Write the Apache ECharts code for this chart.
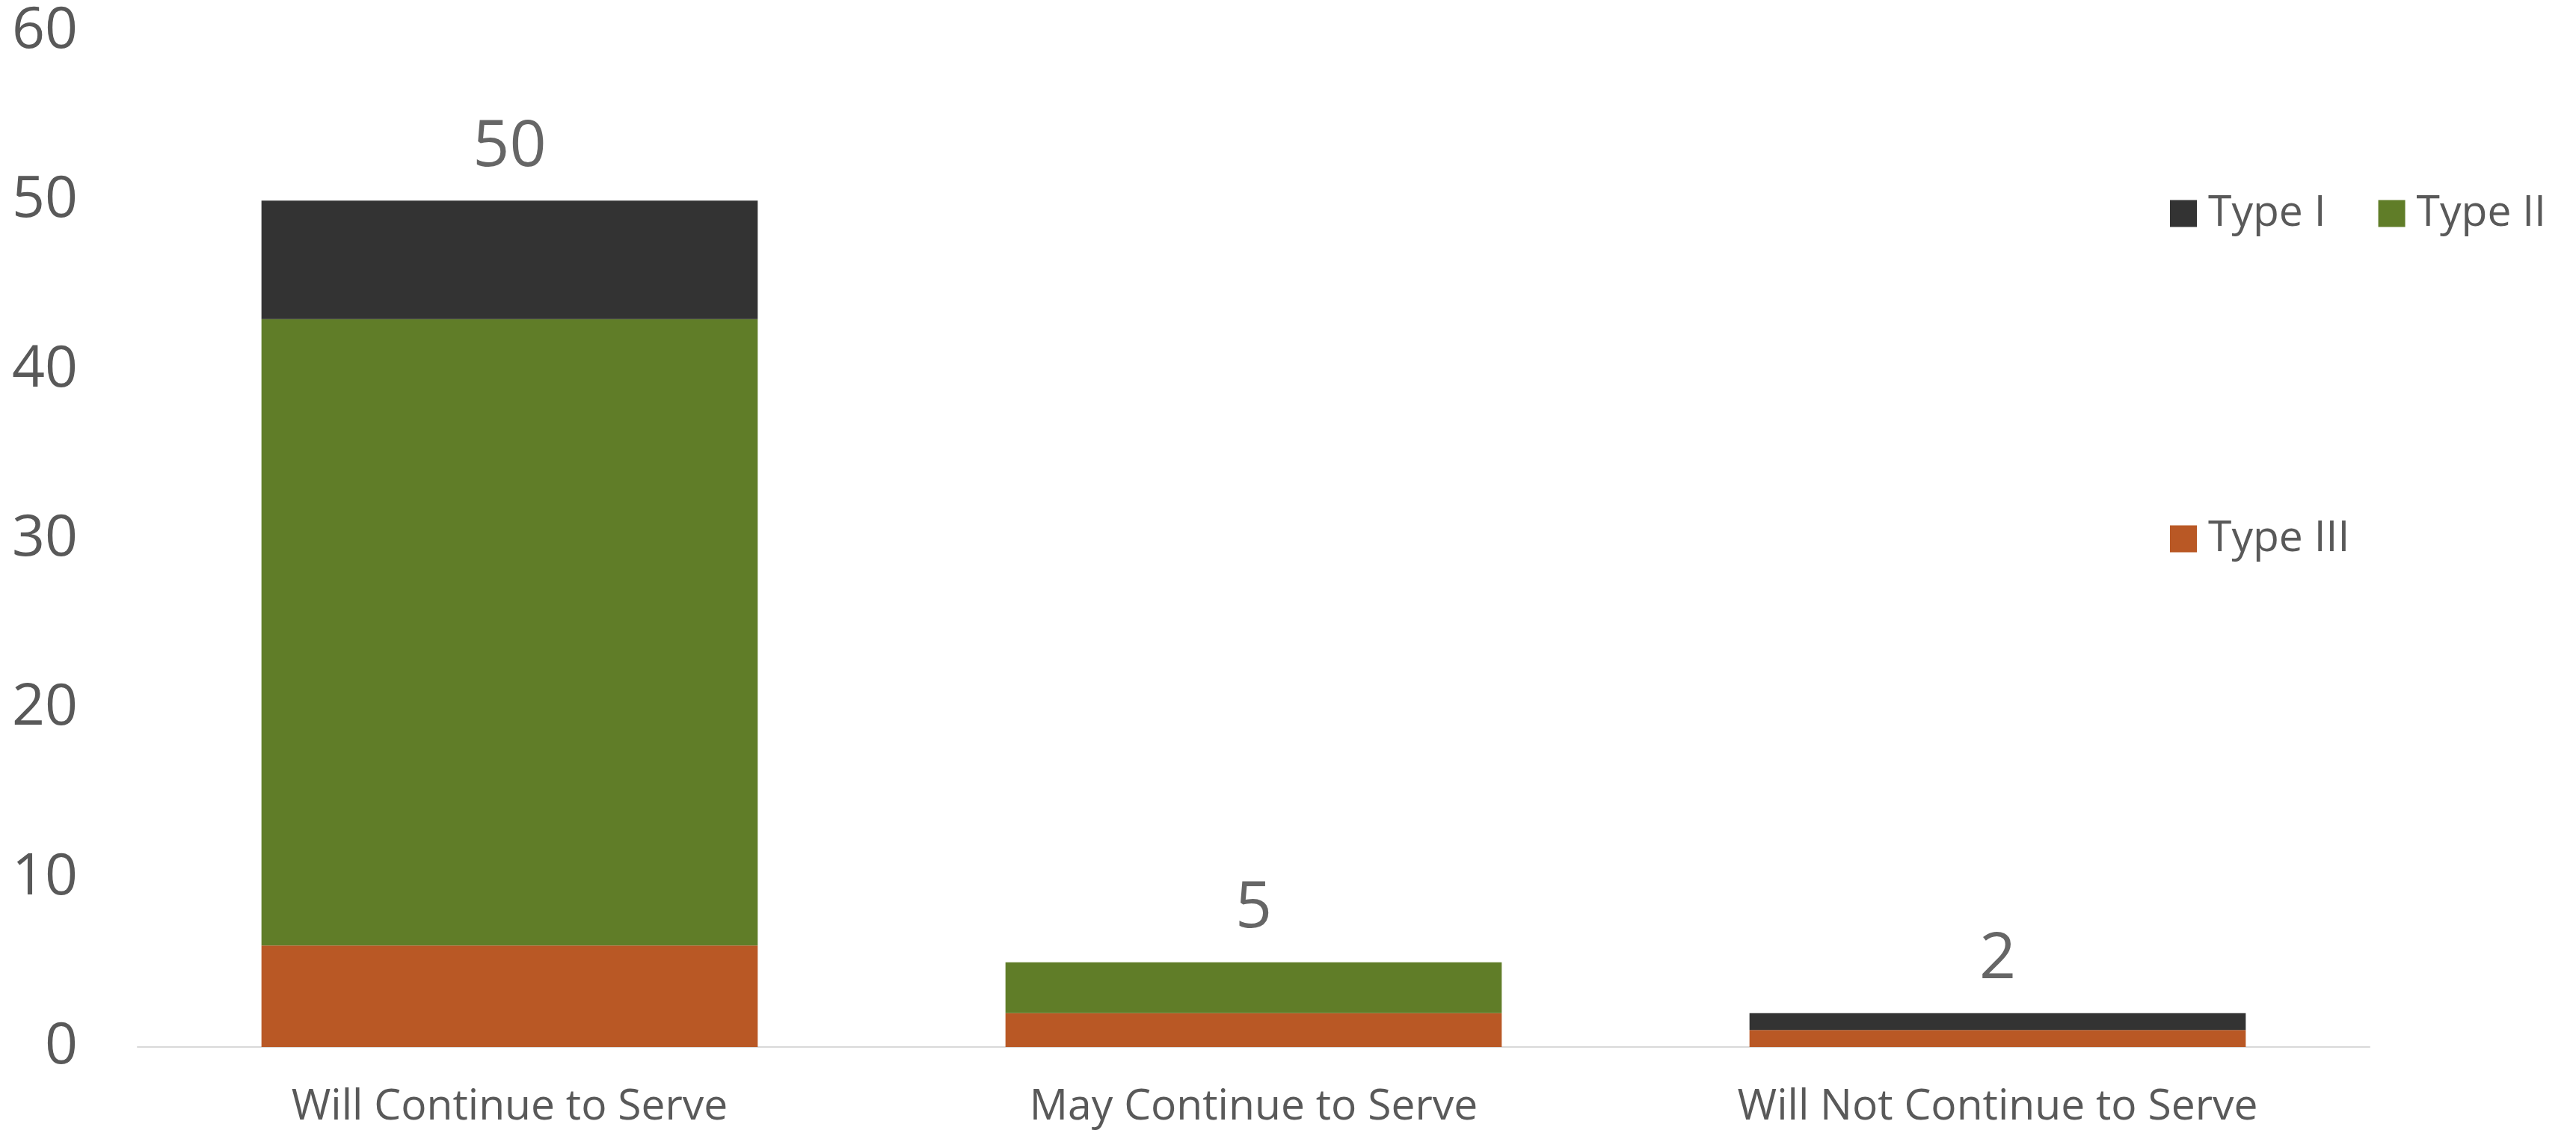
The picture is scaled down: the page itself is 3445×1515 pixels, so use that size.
<!DOCTYPE html>
<html>
<head>
<meta charset="utf-8">
<title>Service intention by type</title>
<script src="https://cdn.jsdelivr.net/npm/echarts@6/dist/echarts.min.js"></script>
<style>
  html, body { margin: 0; padding: 0; background: #ffffff; }
  #chart { width: 3445px; height: 1515px; }
</style>
</head>
<body>
<div id="chart"></div>
<script>
// Categories along the x axis
const categories = ['Will Continue to Serve', 'May Continue to Serve', 'Will Not Continue to Serve'];

// Stacked counts per type (bottom to top: Type III, Type II, Type I)
const typeIII = [6, 2, 1];
const typeII = [37, 3, 0];
const typeI = [7, 0, 1];

// Y axis ticks
const yMin = 0;
const yMax = 60;
const yStep = 10;

// Stack totals shown above each bar
const totals = categories.map((_, i) => typeIII[i] + typeII[i] + typeI[i]);

const FONT = '"Open Sans", "Noto Sans", sans-serif';
const COLORS = { t1: '#333333', t2: '#607D28', t3: '#B95825' };

const chart = echarts.init(document.getElementById('chart'), null, { renderer: 'canvas' });

const barBase = {
  type: 'bar',
  stack: 'total',
  barWidth: '66.7%',
  emphasis: { disabled: true }
};

chart.setOption({
  animation: false,
  backgroundColor: '#ffffff',
  grid: { left: 184, right: 276, top: 42, bottom: 115, containLabel: false },
  legend: [
    {
      data: ['Type I', 'Type II'],
      left: 2902,
      top: 257,
      orient: 'horizontal',
      padding: 0,
      itemWidth: 36,
      itemHeight: 36,
      itemGap: 70,
      icon: 'rect',
      selectedMode: false,
      textStyle: { fontFamily: FONT, fontSize: 57, color: '#595959', padding: [0, 0, 0, 10] }
    },
    {
      data: ['Type III'],
      left: 2902,
      top: 692,
      orient: 'horizontal',
      padding: 0,
      itemWidth: 36,
      itemHeight: 36,
      icon: 'rect',
      selectedMode: false,
      textStyle: { fontFamily: FONT, fontSize: 57, color: '#595959', padding: [0, 0, 0, 10] }
    }
  ],
  xAxis: {
    type: 'category',
    data: categories,
    axisLine: { show: true, lineStyle: { color: '#D9D9D9', width: 2 } },
    axisTick: { show: false },
    axisLabel: { fontFamily: FONT, fontSize: 57, color: '#595959', margin: 52, interval: 0 },
    splitLine: { show: false }
  },
  yAxis: {
    type: 'value',
    min: yMin,
    max: yMax,
    interval: yStep,
    axisLine: { show: false },
    axisTick: { show: false },
    splitLine: { show: false },
    axisLabel: { fontFamily: FONT, fontSize: 77, color: '#595959', margin: 80 }
  },
  series: [
    Object.assign({}, barBase, { name: 'Type III', data: typeIII, itemStyle: { color: COLORS.t3 } }),
    Object.assign({}, barBase, { name: 'Type II', data: typeII, itemStyle: { color: COLORS.t2 } }),
    Object.assign({}, barBase, { name: 'Type I', data: typeI, itemStyle: { color: COLORS.t1 } }),
    {
      name: 'Total',
      type: 'scatter',
      data: totals,
      symbolSize: 0,
      silent: true,
      label: {
        show: true,
        position: 'top',
        distance: 28,
        fontFamily: FONT,
        fontSize: 86,
        color: '#404040'
      }
    }
  ]
});
</script>
</body>
</html>
